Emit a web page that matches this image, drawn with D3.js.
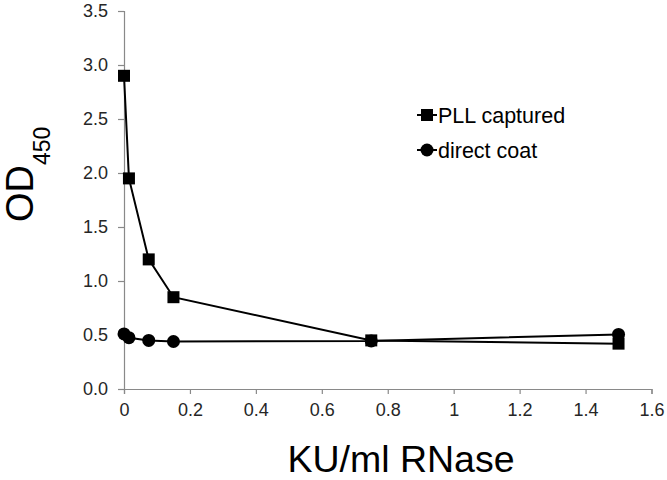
<!DOCTYPE html>
<html><head><meta charset="utf-8">
<script src="https://cdn.jsdelivr.net/npm/d3@7"></script>
<style>body{margin:0;background:#fff}svg{display:block}text{font-family:"Liberation Sans",Arial,sans-serif}</style>
</head><body>
<svg id="c" width="667" height="480"></svg>
<script>
const xValues = [0, 0.015, 0.075, 0.15, 0.75, 1.5];
const pllCaptured = [2.9, 1.95, 1.2, 0.85, 0.45, 0.42];
const directCoat = [0.51, 0.475, 0.45, 0.44, 0.445, 0.505];
const seriesNames = ["PLL captured", "direct coat"];
const xTicks = [0, 0.2, 0.4, 0.6, 0.8, 1, 1.2, 1.4, 1.6];
const xTickLabels = ["0", "0.2", "0.4", "0.6", "0.8", "1", "1.2", "1.4", "1.6"];
const yTicks = [0, 0.5, 1, 1.5, 2, 2.5, 3, 3.5];

const svg = d3.select("#c");
const x = d3.scaleLinear().domain([0, 1.6]).range([124, 651.5]);
const y = d3.scaleLinear().domain([0, 3.5]).range([389, 11]);

const xAxis = svg.append("g").attr("transform", "translate(0,389)")
  .call(d3.axisBottom(x).tickValues(xTicks).tickFormat((d,i)=>xTickLabels[i]).tickSizeOuter(0).tickSize(5).tickPadding(9));
const yAxis = svg.append("g").attr("transform", "translate(124,0)")
  .call(d3.axisLeft(y).tickValues(yTicks).tickFormat(d3.format(".1f")).tickSizeOuter(0).tickSize(6).tickPadding(10));
[xAxis, yAxis].forEach(a => {
  a.selectAll("path,line").attr("stroke", "#898989").attr("stroke-width", 1.2);
  a.selectAll("text").attr("font-size", 18).attr("fill", "#262626").attr("font-family", "Liberation Sans, Arial, sans-serif");
});

const line = d3.line().x(d => x(d[0])).y(d => y(d[1]));
const pllData = xValues.map((v,i)=>[v, pllCaptured[i]]);
const dcData = xValues.map((v,i)=>[v, directCoat[i]]);

svg.append("path").datum(dcData).attr("d", line).attr("fill","none").attr("stroke","#000").attr("stroke-width",2);
svg.append("path").datum(pllData).attr("d", line).attr("fill","none").attr("stroke","#000").attr("stroke-width",2);

svg.selectAll(".dc").data(dcData).enter().append("circle")
  .attr("cx", d=>x(d[0])).attr("cy", d=>y(d[1])).attr("r", 6.5).attr("fill","#000");
svg.selectAll(".pll").data(pllData).enter().append("rect")
  .attr("x", d=>x(d[0])-6).attr("y", d=>y(d[1])-6).attr("width", 12).attr("height", 12).attr("fill","#000");

// legend
const lg = svg.append("g");
lg.append("line").attr("x1",417).attr("x2",437).attr("y1",115).attr("y2",115).attr("stroke","#000").attr("stroke-width",2);
lg.append("rect").attr("x",421).attr("y",109).attr("width",12).attr("height",12).attr("fill","#000");
lg.append("text").attr("x",438).attr("y",122.5).attr("font-size",21.5).attr("fill","#000").text(seriesNames[0]);
lg.append("line").attr("x1",417).attr("x2",437).attr("y1",150).attr("y2",150).attr("stroke","#000").attr("stroke-width",2);
lg.append("circle").attr("cx",427).attr("cy",150).attr("r",6.5).attr("fill","#000");
lg.append("text").attr("x",438).attr("y",157.5).attr("font-size",21.5).attr("fill","#000").text(seriesNames[1]);

// axis titles
svg.append("text").attr("x",401).attr("y",472).attr("text-anchor","middle").attr("font-size",37.5).attr("fill","#000").text("KU/ml RNase");
const yt = svg.append("text").attr("transform","translate(33,222) rotate(-90)").attr("font-size",38).attr("fill","#000");
yt.append("tspan").text("OD");
yt.append("tspan").attr("dy",17).attr("font-size",23).text("450");
</script>
</body></html>
